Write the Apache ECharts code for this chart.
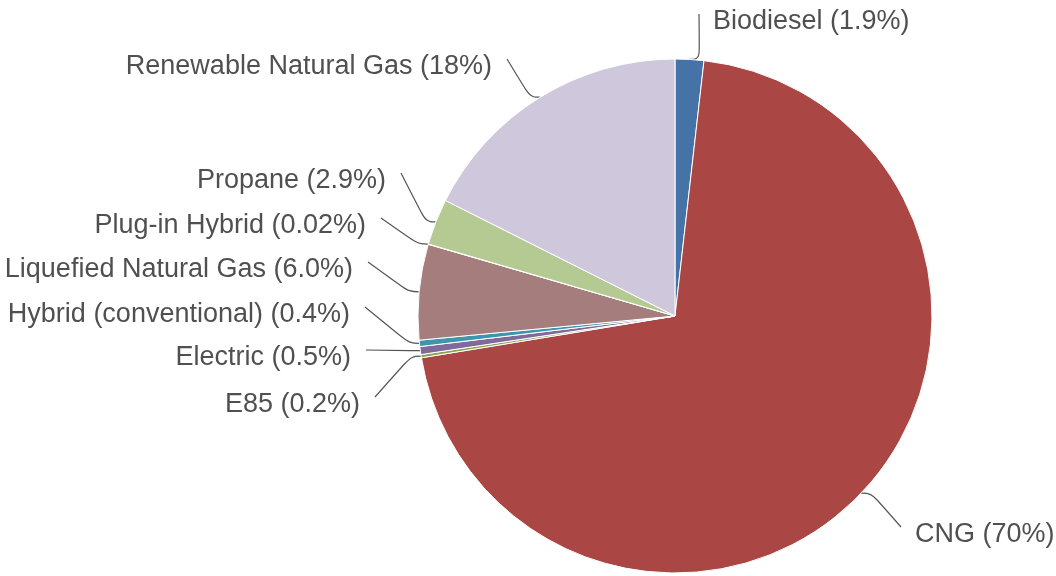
<!DOCTYPE html>
<html>
<head>
<meta charset="utf-8">
<script src="https://cdn.jsdelivr.net/npm/echarts@6/dist/echarts.min.js"></script>
<style>
html,body{margin:0;padding:0;background:#fff;}
#chart{width:1056px;height:576px;}
</style>
</head>
<body>
<div id="chart"></div>
<script>
const categories = ["Biodiesel","CNG","E85","Electric","Hybrid (conventional)","Liquefied Natural Gas","Plug-in Hybrid","Propane","Renewable Natural Gas"];
const values = [1.8, 70.6, 0.2, 0.5, 0.4, 6.0, 0.02, 2.9, 17.58];
const labelTexts = ["1.9%","70%","0.2%","0.5%","0.4%","6.0%","0.02%","2.9%","18%"];
const colors = ["#4572A7","#AA4643","#89A54E","#80699B","#3D96AE","#A47D7C","#DB843D","#B5CA92","#CFC7DC"];

// label anchor placement (layout only)
const labelPos = [
  {x:713, y:22, side:1},
  {x:915, y:535, side:1},
  {x:360, y:405, side:-1},
  {x:351, y:358, side:-1},
  {x:350, y:315, side:-1},
  {x:353, y:270, side:-1},
  {x:366, y:226, side:-1},
  {x:386, y:181, side:-1},
  {x:492, y:67, side:-1}
];

const chart = echarts.init(document.getElementById('chart'), null, {renderer:'canvas'});
chart.setOption({
  animation:false,
  color: colors,
  series:[{
    type:'pie',
    center:[675,316],
    radius:257,
    startAngle:90,
    clockwise:true,
    minAngle:0,
    avoidLabelOverlap:false,
    itemStyle:{borderColor:'#fff',borderWidth:1},
    label:{
      show:true,
      formatter:function(p){return p.name + ' (' + labelTexts[p.dataIndex] + ')';},
      fontFamily:'Liberation Sans, Arial, sans-serif',
      fontSize:27,
      color:'#505050'
    },
    labelLine:{show:true,smooth:0.4,lineStyle:{color:'#555',width:1.2}},
    labelLayout:function(params){
      const lp = labelPos[params.dataIndex];
      const p0 = params.labelLinePoints ? params.labelLinePoints[0] : [675,316];
      const endX = lp.x + (lp.side>0 ? -14 : 15);
      const endY = lp.y - 8;
      const p1 = [p0[0] + lp.side*10, p0[1]];
      return {
        x: lp.x,
        y: lp.y,
        align: lp.side>0 ? 'left' : 'right',
        verticalAlign:'middle',
        labelLinePoints:[p0, p1, [endX,endY]]
      };
    },
    data: categories.map(function(c,i){return {name:c, value:values[i]};})
  }]
});
</script>
</body>
</html>
